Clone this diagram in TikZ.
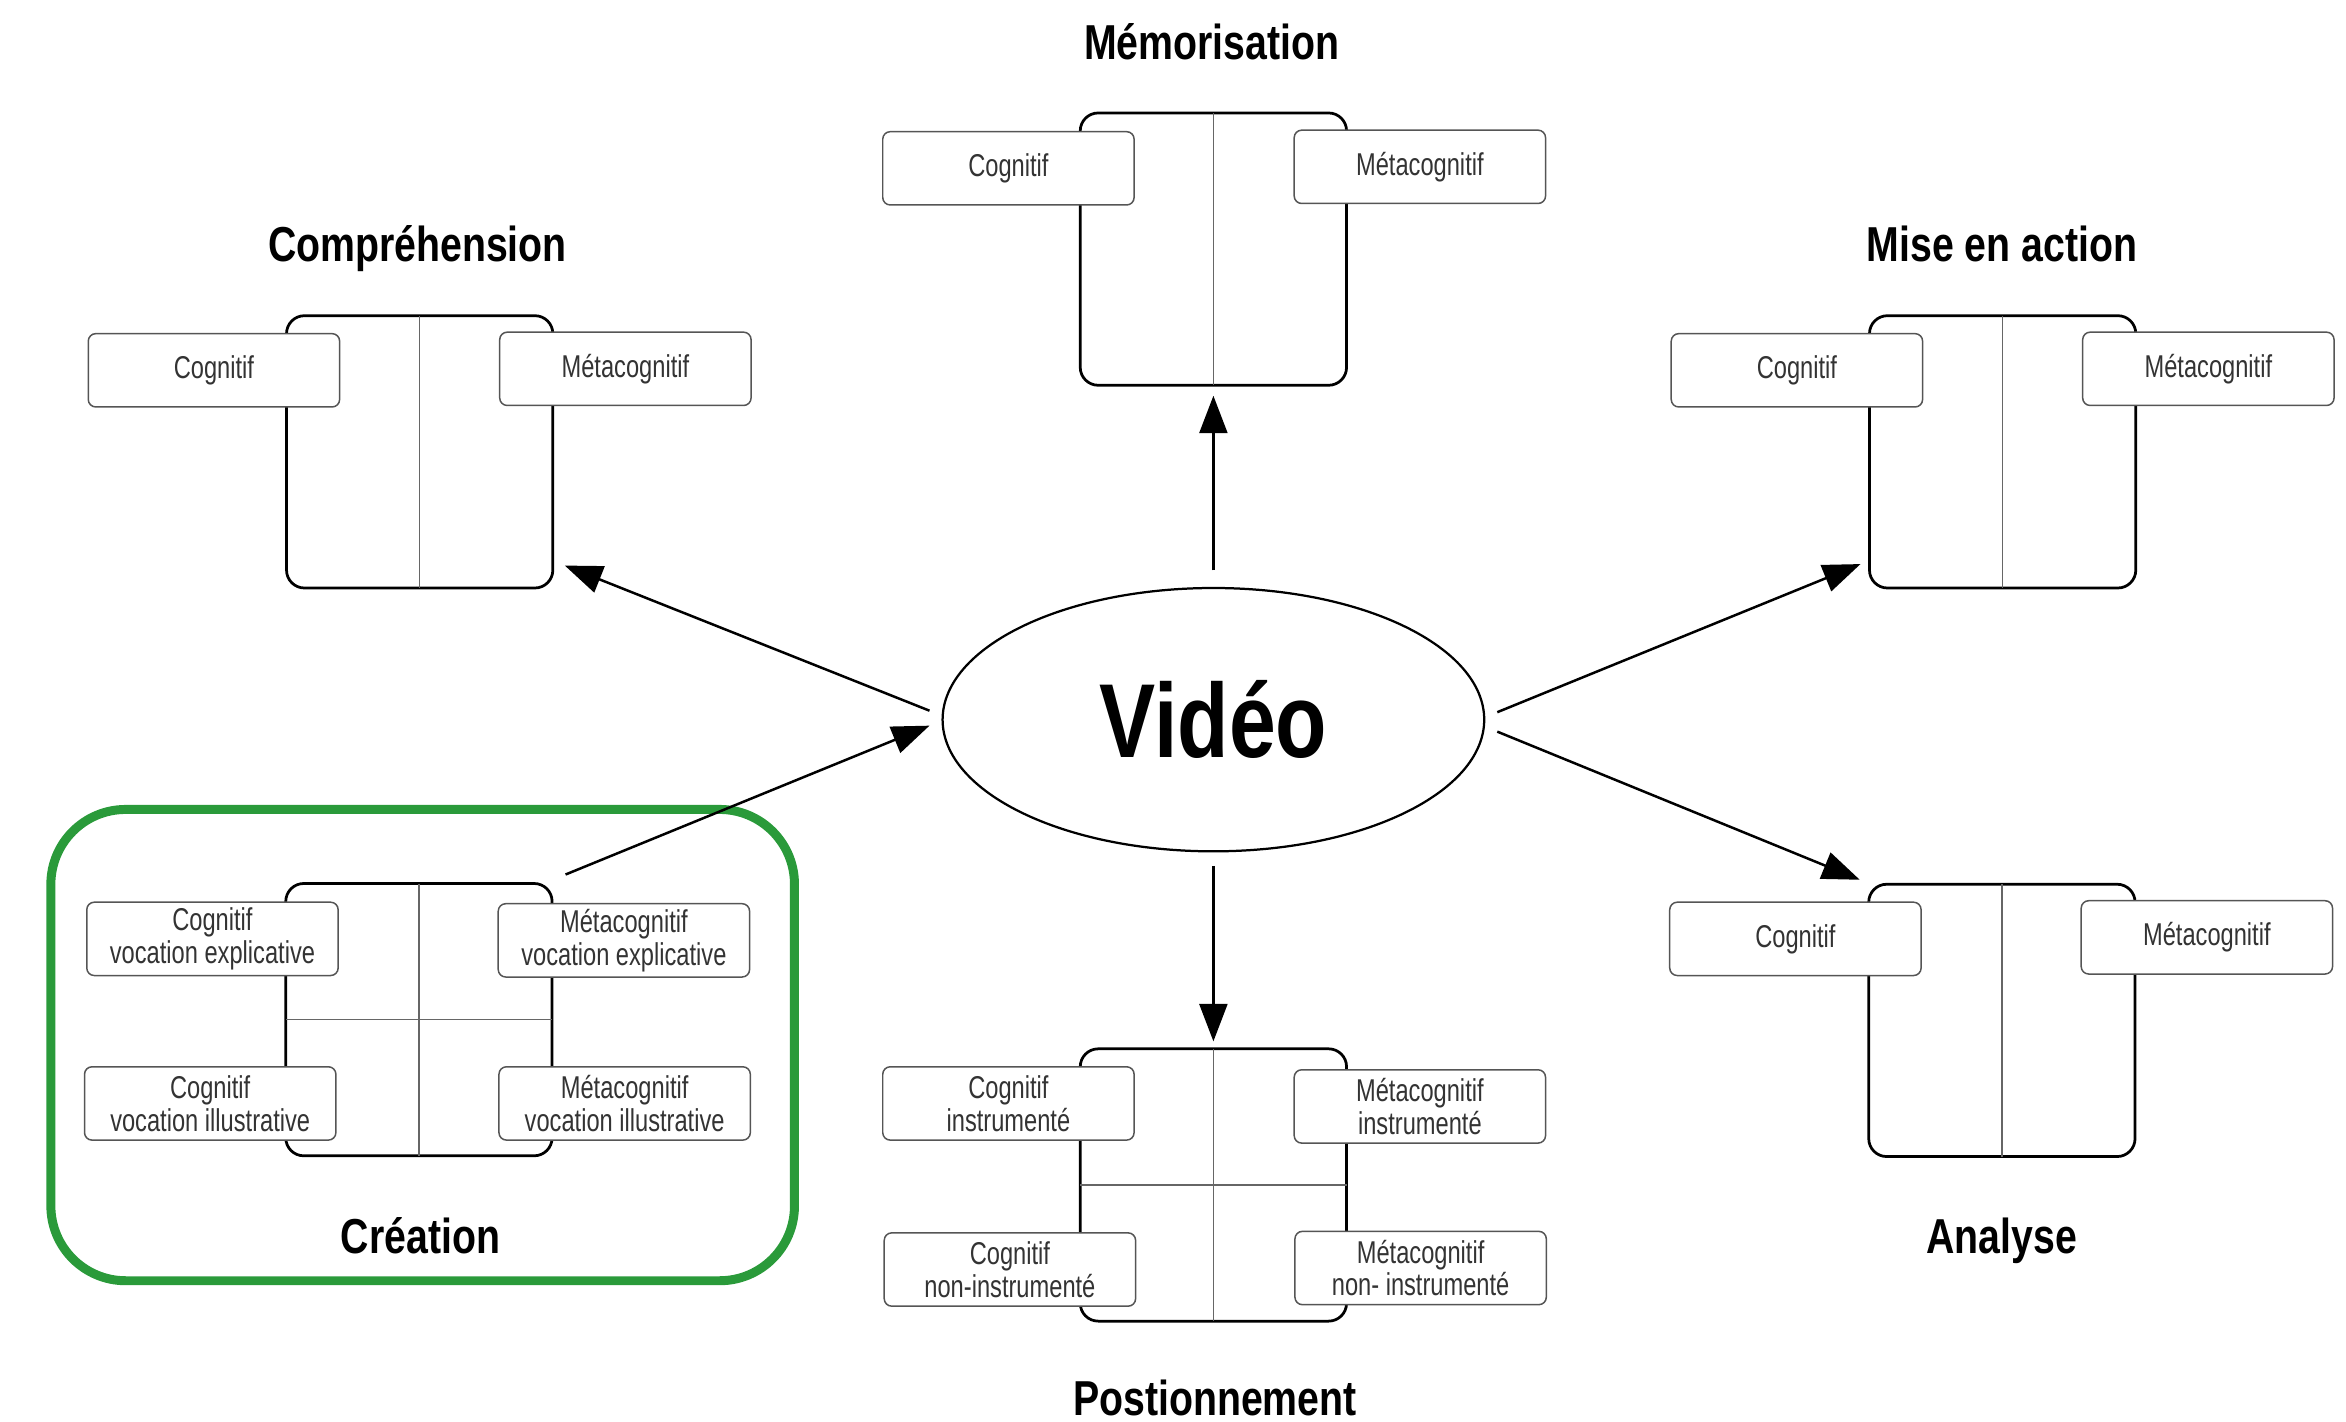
\documentclass[tikz,border=0pt]{standalone}
\usepackage{fontspec}
\usetikzlibrary{arrows.meta,calc,shapes.geometric}
\newfontfamily\tfont[FakeStretch=0.8]{Liberation Sans Bold}
\newfontfamily\bfont[FakeStretch=0.75]{Liberation Sans}
\definecolor{boxtext}{HTML}{333333}
\definecolor{boxline}{HTML}{555555}
\definecolor{divline}{HTML}{666666}
\definecolor{creagreen}{HTML}{2A9A3A}
\begin{document}
\begin{tikzpicture}[x=0.3mm,y=-0.3mm,
  frame/.style={draw=black, line width=0.55mm, rounded corners=3.6mm, minimum width=53.4mm, minimum height=54.6mm, inner sep=0pt, outer sep=0pt},
  divider/.style={draw=divline, line width=0.3mm},
  lab/.style={draw=boxline, fill=white, line width=0.3mm, rounded corners=1.5mm, minimum width=50.4mm, minimum height=14.7mm, inner sep=0pt, align=center, text=boxtext, font=\bfont\fontsize{18}{18.8}\selectfont},
  title/.style={font=\tfont\fontsize{28}{30}\selectfont, text=black, inner sep=0pt, anchor=base},
  arr/.style={draw=black, line width=0.5mm, -{Triangle[length=7.5mm,width=5.6mm]}}
]
\useasboundingbox (0,0) rectangle (1568,950);

% green highlight around Création
\draw[creagreen, line width=1.8mm, rounded corners=15mm] (34,541) rectangle (531,856);

% central ellipse
\node[draw=black, line width=0.45mm, ellipse, minimum width=108.6mm, minimum height=52.8mm, inner sep=0pt, font=\tfont\fontsize{60}{62}\selectfont] (vid) at (811,481) {Vidéo};

% frames
\node[frame] (memo) at (811,166.5) {};
\node[frame] (comp) at (280.5,302) {};
\node[frame] (mise) at (1338.5,302) {};
\node[frame] (crea) at (280,681.5) {};
\node[frame] (ana) at (1338,682) {};
\node[frame] (pos) at (811,792) {};

% dividers
\draw[divider] (memo.north) -- (memo.south);
\draw[divider] (comp.north) -- (comp.south);
\draw[divider] (mise.north) -- (mise.south);
\draw[divider] (ana.north) -- (ana.south);
\draw[divider] (crea.north) -- (crea.south);
\draw[divider] (crea.west) -- (crea.east);
\draw[divider] (pos.north) -- (pos.south);
\draw[divider] (pos.west) -- (pos.east);

% titles
\node[title] (tmemo) at (810,39.5) {Mémorisation};
\node[title] (tcomp) at (279,174.5) {Compréhension};
\node[title] (tmise) at (1338,174.5) {Mise en action};
\node[title] (tcrea) at (281,837.5) {Création};
\node[title] (tana) at (1338,837.5) {Analyse};
\node[title] (tpos) at (812,946) {Postionnement};

% labels
\node[lab] (memoC) at (674,112.5) {Cognitif};
\node[lab] (memoM) at (949,111.5) {Métacognitif};
\node[lab] (compC) at (143,247.5) {Cognitif};
\node[lab] (compM) at (418,246.5) {Métacognitif};
\node[lab] (miseC) at (1201,247.5) {Cognitif};
\node[lab] (miseM) at (1476,246.5) {Métacognitif};
\node[lab] (creaTL) at (142,627.5) {Cognitif\\vocation explicative};
\node[lab] (creaTR) at (417,628.5) {Métacognitif\\vocation explicative};
\node[lab] (creaBL) at (140.5,737.5) {Cognitif\\vocation illustrative};
\node[lab] (creaBR) at (417.5,737.5) {Métacognitif\\vocation illustrative};
\node[lab] (anaC) at (1200,627.5) {Cognitif};
\node[lab] (anaM) at (1475,626.5) {Métacognitif};
\node[lab] (posTL) at (674,737.5) {Cognitif\\instrumenté};
\node[lab] (posTR) at (949,739.5) {Métacognitif\\instrumenté};
\node[lab] (posBL) at (675,848.5) {Cognitif\\non-instrumenté};
\node[lab] (posBR) at (949.5,847.5) {Métacognitif\\non- instrumenté};

% arrows
\draw[arr, shorten <=3.3mm, shorten >=2.1mm] (vid.north) -- (memo.south);
\draw[arr] ($(vid.west)+(-8,-6)$) -- ($(comp.south east)+(8,-15)$);
\draw[arr] ($(crea.north east)+(9,-6)$) -- ($(vid.west)+(-8,4)$);
\draw[arr] ($(vid.east)+(8,-5)$) -- ($(mise.south west)+(-6,-16)$);
\draw[arr] ($(vid.east)+(8,8)$) -- ($(ana.north west)+(-6,-3)$);
\draw[arr, shorten <=2.7mm, shorten >=1.5mm] (vid.south) -- (pos.north);
\end{tikzpicture}
\end{document}
